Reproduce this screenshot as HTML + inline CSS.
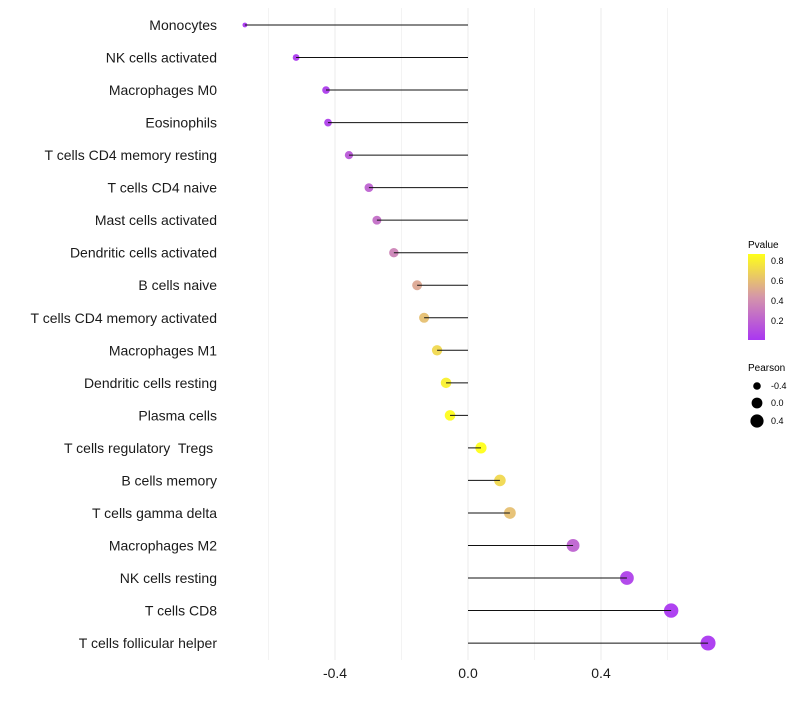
<!DOCTYPE html>
<html><head><meta charset="utf-8"><style>
body{margin:0;background:#fff;font-family:"Liberation Sans",sans-serif}
svg text{font-family:"Liberation Sans",sans-serif;white-space:pre}
</style></head><body>
<svg id="chart" width="800" height="700">
<defs><linearGradient id="pg" x1="0" y1="1" x2="0" y2="0">
<stop offset="0" stop-color="#a020f0"/><stop offset="0.5" stop-color="#d08aa0"/><stop offset="1" stop-color="#ffff00"/></linearGradient></defs>
<g id="grid"></g>
<g id="dots"></g>
<g id="marks"></g>
<g id="ylab"></g>
<g id="xlab"></g>
<g>
<text x="748" y="248" font-size="10">Pvalue</text>
<rect x="748" y="254" width="17" height="86" fill="url(#pg)" opacity="0.9"/>
<text x="771" y="264" font-size="9">0.8</text><text x="771" y="284" font-size="9">0.6</text>
<text x="771" y="304" font-size="9">0.4</text><text x="771" y="324" font-size="9">0.2</text>
</g>
<g>
<text x="748" y="371" font-size="10">Pearson</text>
<circle cx="757" cy="386" r="3.8"/><text x="771" y="389" font-size="9">-0.4</text>
<circle cx="757" cy="403" r="5.4"/><text x="771" y="406" font-size="9">0.0</text>
<circle cx="757" cy="421" r="6.6"/><text x="771" y="424" font-size="9">0.4</text>
</g>
</svg>
<script>
const categories=["Monocytes","NK cells activated","Macrophages M0","Eosinophils","T cells CD4 memory resting","T cells CD4 naive","Mast cells activated","Dendritic cells activated","B cells naive","T cells CD4 memory activated","Macrophages M1","Dendritic cells resting","Plasma cells","T cells regulatory  Tregs ","B cells memory","T cells gamma delta","Macrophages M2","NK cells resting","T cells CD8","T cells follicular helper"];
const pearson=[-0.671,-0.517,-0.427,-0.421,-0.358,-0.298,-0.274,-0.223,-0.153,-0.132,-0.093,-0.066,-0.054,0.039,0.096,0.126,0.316,0.478,0.611,0.722];
const pvalue=[0.0,0.02,0.03,0.05,0.15,0.2,0.25,0.35,0.5,0.6,0.7,0.8,0.85,0.88,0.7,0.6,0.2,0.05,0.01,0.005];
const xTicks=[-0.4,0.0,0.4];
const xMinor=[-0.6,-0.2,0.2,0.6];
const NS="http://www.w3.org/2000/svg";
const xs=v=>468+v*332.5;
const ys=i=>25+i*32.53;
function col(p){const t=Math.min(p/0.86,1);const a=[160,32,240],m=[208,138,160],b=[255,255,0];
let c;if(t<0.5){const u=t/0.5;c=a.map((x,k)=>x+(m[k]-x)*u);}else{const u=(t-0.5)/0.5;c=m.map((x,k)=>x+(b[k]-x)*u);}
return`rgb(${c.map(Math.round).join(",")})`;}
const rad=v=>Math.sqrt(Math.max(30+36*v,2));
function mk(tag,attrs,parent){const e=document.createElementNS(NS,tag);for(const k in attrs)e.setAttribute(k,attrs[k]);document.getElementById(parent).appendChild(e);return e;}
xMinor.concat(xTicks).forEach(v=>{const l=mk("line",{x1:xs(v),x2:xs(v),y1:8,y2:660,stroke:"#ebebeb","stroke-width":xTicks.includes(v)?1:0.6},"grid");

});
categories.forEach((c,i)=>{const y=ys(i);
const d=mk("circle",{cx:xs(pearson[i]),cy:y,r:rad(pearson[i]),fill:col(pvalue[i]),"fill-opacity":0.85},"dots");


const l=mk("line",{x1:xs(0),x2:xs(pearson[i]),y1:y,y2:y,stroke:"#111","stroke-width":1},"marks");


const t=mk("text",{x:217,y:y+5,"text-anchor":"end","font-size":14,fill:"#1a1a1a"},"ylab");t.textContent=c;

});
xTicks.forEach(v=>{const t=mk("text",{x:xs(v),y:678,"text-anchor":"middle","font-size":14,fill:"#1a1a1a"},"xlab");t.textContent=v.toFixed(1);

});
</script>
</body></html>
